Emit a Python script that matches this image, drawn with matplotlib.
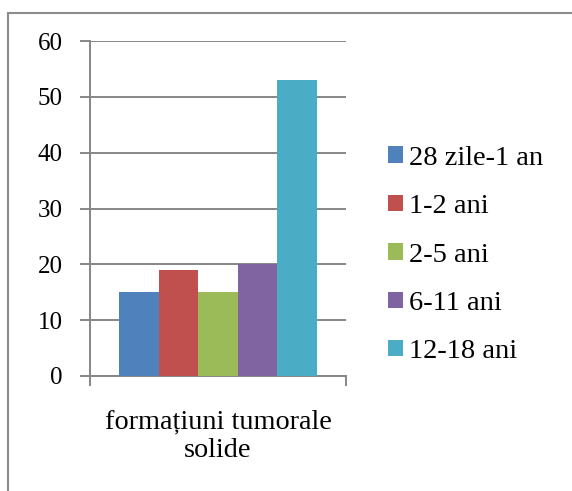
import matplotlib
matplotlib.use("Agg")
import matplotlib.pyplot as plt
from matplotlib.patches import Rectangle, Patch

category = "formațiuni tumorale\nsolide"
groups = ["28 zile-1 an", "1-2 ani", "2-5 ani", "6-11 ani", "12-18 ani"]
values = [15, 19, 15, 20, 53]
colors = ["#4F81BD", "#C0504D", "#9BBB59", "#8064A2", "#4BACC6"]
y_ticks = [0, 10, 20, 30, 40, 50, 60]

GRID = "#868686"


def main():
    plt.rcParams["font.family"] = ["Liberation Serif", "DejaVu Serif"]
    plt.rcParams["font.size"] = 18

    fig = plt.figure(figsize=(5.72, 4.91), dpi=100)
    ax = fig.add_axes([90 / 572, 115 / 491, 256 / 572, 335 / 491])

    w = 0.1547
    for i, (g, v, c) in enumerate(zip(groups, values, colors)):
        ax.bar((i - 2) * w, v, width=w, color=c, label=g, zorder=3)

    ax.set_xlim(-0.5, 0.5)
    ax.set_ylim(0, 60)
    ax.set_yticks(y_ticks)
    ax.yaxis.grid(True, color=GRID, linewidth=1.4, zorder=0)

    ax.set_xticks([0])
    ax.set_xticklabels([category], linespacing=1.17, fontsize=20.3)
    ax.set_xticks([-0.5, 0.5], minor=True)
    ax.tick_params(axis="x", which="major", length=0, pad=24)
    ax.tick_params(axis="x", which="minor", length=7, width=1.4, color=GRID)
    ax.tick_params(axis="y", length=7, width=1.4, color=GRID, pad=12.5,
                   labelsize=18)

    for s in ["top", "right"]:
        ax.spines[s].set_visible(False)
    for s in ["left", "bottom"]:
        ax.spines[s].set_color(GRID)
        ax.spines[s].set_linewidth(1.4)

    handles = [Patch(facecolor=c, label=g) for g, c in zip(groups, colors)]
    fig.legend(handles=handles, loc="center left",
               bbox_to_anchor=(388 / 572, 1 - 255 / 491),
               frameon=False, borderpad=0, borderaxespad=0,
               fontsize=20.5,
               handlelength=0.51, handleheight=0.51, handletextpad=0.22,
               labelspacing=0.82)

    fig.patches.append(Rectangle((8 / 572, -0.2), 1.5, 0.2 + 1 - 13 / 491,
                                 transform=fig.transFigure, fill=False,
                                 edgecolor="#8c8c8c", linewidth=1.5))

    fig.savefig("out.png", dpi=100)


if __name__ == "__main__":
    main()
